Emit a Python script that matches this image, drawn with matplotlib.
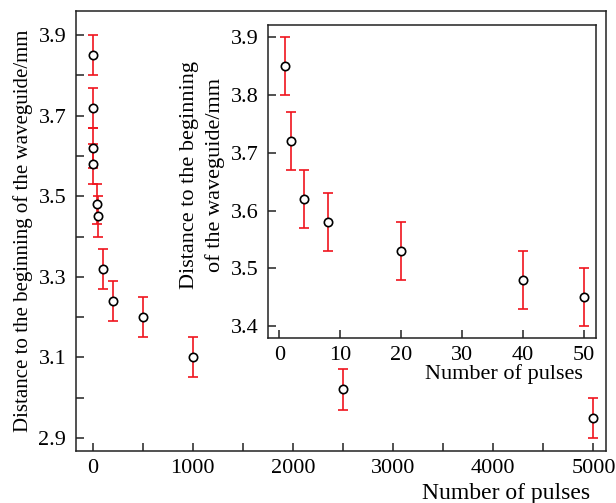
import matplotlib

matplotlib.use("Agg")
import matplotlib.pyplot as plt
from matplotlib.ticker import FixedLocator, MultipleLocator


# 主图数据：脉冲数 -> 到波导起点的距离
MAIN_PULSES = [1, 2, 4, 8, 40, 50, 100, 200, 500, 1000, 2500, 5000]
MAIN_DISTANCE = [3.85, 3.72, 3.62, 3.58, 3.48, 3.45, 3.32, 3.24, 3.20, 3.10, 3.02, 2.95]
MAIN_ERROR = [0.05] * len(MAIN_PULSES)
MAIN_Y_TICKS = [2.9, 3.1, 3.3, 3.5, 3.7, 3.9]
MAIN_Y_MINOR = [3.0, 3.2, 3.4, 3.6, 3.8]

# 插图数据：前 50 个脉冲
INSET_PULSES = [1, 2, 4, 8, 20, 40, 50]
INSET_DISTANCE = [3.85, 3.72, 3.62, 3.58, 3.53, 3.48, 3.45]
INSET_ERROR = [0.05] * len(INSET_PULSES)

X_LABEL = "Number of pulses"
Y_LABEL = "Distance to the beginning of the waveguide/mm"
INSET_Y_LABEL = "Distance to the beginning\nof the waveguide/mm"

RED = "#f0141e"
SPINE_COLOR = "#222222"

plt.rcParams["font.family"] = ["Liberation Serif", "DejaVu Serif"]
plt.rcParams["font.size"] = 16


def style_axes(ax):
    for spine in ax.spines.values():
        spine.set_linewidth(1.1)
        spine.set_color(SPINE_COLOR)
    ax.tick_params(which="both", direction="in", width=1.1, color=SPINE_COLOR,
                   labelsize=16, top=False, right=False, length=6)
    ax.tick_params(axis="y", pad=7)
    ax.tick_params(axis="x", pad=6)


def draw_points(ax, x, y, err):
    ax.errorbar(
        x, y, yerr=err,
        fmt="o",
        ms=6,
        mfc="white",
        mec="black",
        mew=1.2,
        ecolor=RED,
        elinewidth=1.2,
        capsize=3.5,
        capthick=1.2,
        zorder=3,
    )


fig = plt.figure(figsize=(6.16, 5.03), dpi=100)

# 主图
ax = fig.add_axes([0.1234, 0.104, 0.8604, 0.874])
draw_points(ax, MAIN_PULSES, MAIN_DISTANCE, MAIN_ERROR)
ax.set_xlim(-165, 5125)
ax.set_ylim(2.868, 3.96)
ax.xaxis.set_major_locator(MultipleLocator(1000))
ax.xaxis.set_minor_locator(MultipleLocator(500))
ax.yaxis.set_major_locator(FixedLocator(MAIN_Y_TICKS))
ax.yaxis.set_minor_locator(FixedLocator(MAIN_Y_MINOR))
ax.yaxis.set_major_formatter(lambda v, pos: f"{v:.1f}")
style_axes(ax)
ax.set_xlabel(X_LABEL, fontsize=17, ha="right", va="top")
ax.xaxis.set_label_coords(0.970, -0.074)
ax.set_ylabel(Y_LABEL, fontsize=15)
ax.yaxis.set_label_coords(-0.081, 0.5)

# 插图
inset = fig.add_axes([0.435, 0.3286, 0.5325, 0.6217])
draw_points(inset, INSET_PULSES, INSET_DISTANCE, INSET_ERROR)
inset.set_xlim(-1.86, 51.97)
inset.set_ylim(3.380, 3.921)
inset.xaxis.set_major_locator(MultipleLocator(10))
inset.yaxis.set_major_locator(MultipleLocator(0.1))
inset.yaxis.set_major_formatter(lambda v, pos: f"{v:.1f}")
style_axes(inset)
inset.set_xlabel(X_LABEL, fontsize=16, ha="right", va="top")
inset.xaxis.set_label_coords(0.96, -0.085)
inset.set_ylabel(INSET_Y_LABEL, fontsize=16, ha="center",
                 multialignment="center", linespacing=1.4)
inset.yaxis.set_label_coords(-0.13, 0.52)

fig.savefig("out.png", dpi=100)
